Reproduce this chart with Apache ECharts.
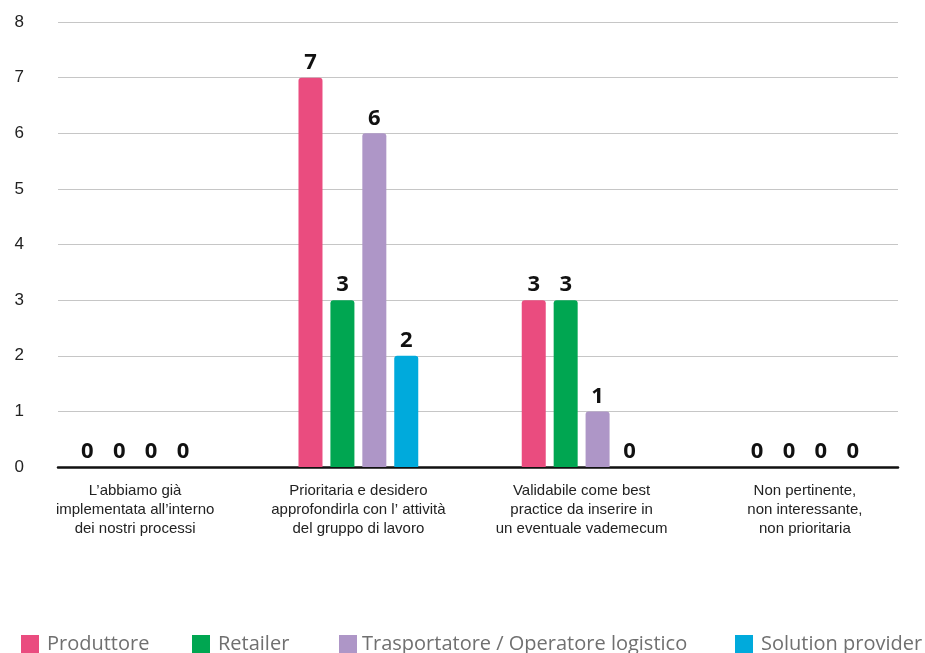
<!DOCTYPE html>
<html>
<head>
<meta charset="utf-8">
<script src="https://cdn.jsdelivr.net/npm/echarts@6/dist/echarts.min.js"></script>
<style>
  html, body { margin: 0; padding: 0; background: #ffffff; }
  #chart { width: 925px; height: 653px; }
</style>
</head>
<body>
<div id="chart"></div>
<script>
// Survey answers by respondent type
const categories = [
  "L\u2019abbiamo già\nimplementata all\u2019interno\ndei nostri processi",
  "Prioritaria e desidero\napprofondirla con l\u2019 attività\ndel gruppo di lavoro",
  "Validabile come best\npractice da inserire in\nun eventuale vademecum",
  "Non pertinente,\nnon interessante,\nnon prioritaria"
];
const seriesNames = ["Produttore", "Retailer", "Trasportatore / Operatore logistico", "Solution provider"];
const produttore = [0, 7, 3, 0];
const retailer = [0, 3, 3, 0];
const trasportatore = [0, 6, 1, 0];
const solutionProvider = [0, 2, 0, 0];
const yTicks = [0, 1, 2, 3, 4, 5, 6, 7, 8];

const colors = ["#EA4C7F", "#00A651", "#AE96C7", "#00AADC"];
const values = [produttore, retailer, trasportatore, solutionProvider];
const legendLeft = [21, 192, 339, 735];
const legendTextPad = [3, 3, 0, 3];

const chart = echarts.init(document.getElementById("chart"), null, { renderer: "canvas" });

const barSeries = values.map((data, i) => ({
  name: seriesNames[i],
  type: "bar",
  xAxisIndex: 1,
  yAxisIndex: 1,
  data: data,
  barWidth: 24,
  barGap: "33%",
  itemStyle: { color: colors[i], borderRadius: [3, 3, 0, 0] },
  label: {
    show: true,
    position: "top",
    distance: 4,
    color: "#111",
    fontFamily: "Open Sans",
    fontWeight: "bold",
    fontSize: 22
  },
  z: 3
}));

chart.setOption({
  animation: false,
  color: colors,
  grid: [
    // plot area holding the value gridlines and the baseline
    { left: 58, right: 27, top: 22, bottom: 186 },
    // band used to place the bar groups and their category labels
    { left: 23.5, right: 8.5, top: 22, bottom: 186 }
  ],
  legend: seriesNames.map((name, i) => ({
    data: [name],
    left: legendLeft[i],
    top: 634,
    padding: 0,
    itemWidth: 18,
    itemHeight: 18,
    icon: "rect",
    textStyle: {
      fontFamily: "Open Sans",
      fontSize: 20,
      color: "#707070",
      padding: [0, 0, 0, legendTextPad[i]]
    }
  })),
  xAxis: [
    {
      gridIndex: 0,
      type: "category",
      data: categories,
      axisLine: { show: true, lineStyle: { color: "#111", width: 2.5 } },
      axisTick: { show: false },
      axisLabel: { show: false },
      splitLine: { show: false }
    },
    {
      gridIndex: 1,
      type: "category",
      data: categories,
      axisLine: { show: false },
      axisTick: { show: false },
      axisLabel: {
        margin: 14,
        color: "#222",
        fontFamily: "Liberation Sans",
        fontSize: 15,
        lineHeight: 19,
        interval: 0
      }
    }
  ],
  yAxis: [
    {
      gridIndex: 0,
      type: "value",
      min: yTicks[0],
      max: yTicks[yTicks.length - 1],
      interval: 1,
      axisLine: { show: false },
      axisTick: { show: false },
      axisLabel: {
        margin: 34,
        color: "#222",
        fontFamily: "Liberation Sans",
        fontSize: 17
      },
      splitLine: { lineStyle: { color: "#c6c6c6", width: 1 } }
    },
    {
      gridIndex: 1,
      type: "value",
      min: yTicks[0],
      max: yTicks[yTicks.length - 1],
      interval: 1,
      show: false,
      splitLine: { show: false }
    }
  ],
  series: barSeries
});
</script>
</body>
</html>
